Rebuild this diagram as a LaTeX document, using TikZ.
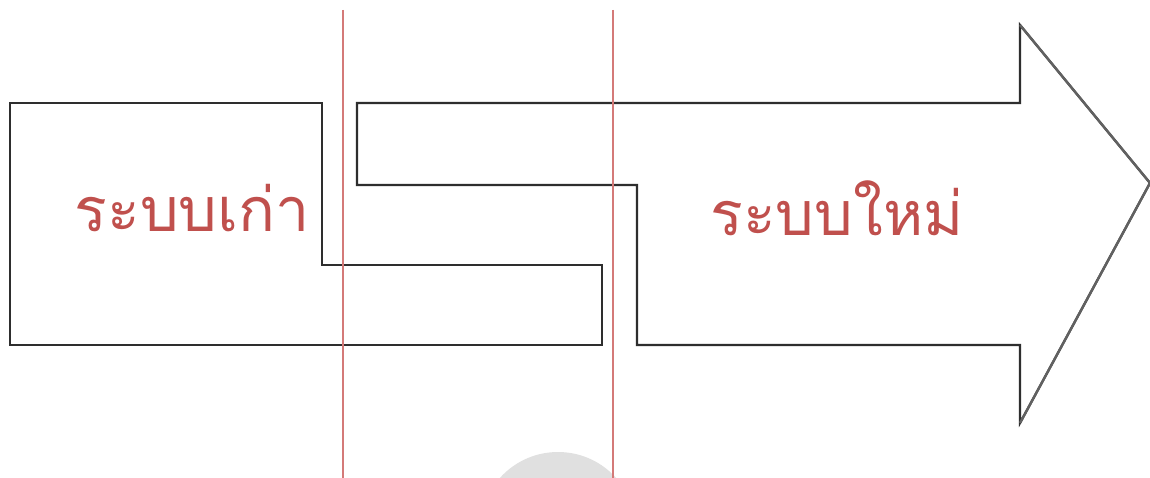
\documentclass[tikz,border=0pt]{standalone}
\usepackage{fontspec}
\newfontfamily\thaifont[Script=Thai]{Loma}
\definecolor{txtred}{HTML}{C0504D}
\definecolor{linered}{HTML}{D47A78}
\definecolor{outline}{HTML}{2E2E2E}
\begin{document}
\begin{tikzpicture}[x=1pt,y=-1pt,
  shapeline/.style={draw=outline,line width=2.2pt,line join=miter},
  headline/.style={draw=black!62,line width=2.4pt,line join=miter},
  divider/.style={draw=linered,line width=2pt},
  label/.style={text=txtred,font=\thaifont\fontsize{61}{64}\selectfont,inner sep=0pt}]
\useasboundingbox (0,0) rectangle (1150,478);
\fill[white] (0,0) rectangle (1150,478);
% faint grey disc at bottom
\fill[black!12] (558,530) circle (78);
% old system block
\draw[shapeline] (10,103) -- (322,103) -- (322,265) -- (602,265) -- (602,345) -- (10,345) -- cycle;
% new system arrow
\draw[shapeline] (357,103) -- (1020,103) -- (1020,25) -- (1150,183) -- (1020,423) -- (1020,345) -- (637,345) -- (637,185) -- (357,185) -- cycle;
\draw[headline] (1020,25) -- (1150,183) -- (1020,423);
% dividers
\draw[divider] (343,10) -- (343,478);
\draw[divider] (613,10) -- (613,478);
% labels
\node[label] (old) at (192,208) {ระบบเก่า};
\node[label] (new) at (837,208) {ระบบใหม่};
\end{tikzpicture}
\end{document}
